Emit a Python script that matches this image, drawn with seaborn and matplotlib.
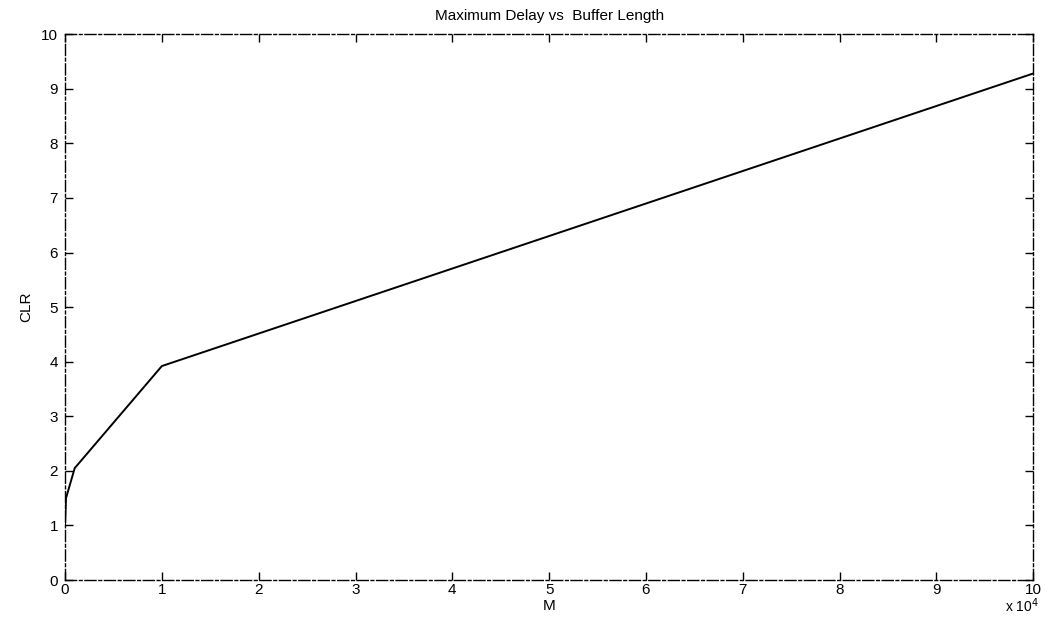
import matplotlib
matplotlib.use("Agg")
import matplotlib.pyplot as plt
import seaborn as sns
import pandas as pd
from matplotlib.ticker import FuncFormatter

# Buffer length M and the resulting CLR
buffer_length = [0, 100, 1000, 10000, 100000]
clr_values = [1.0, 1.5, 2.05, 3.92, 9.28]

xtick_values = list(range(0, 100001, 10000))
ytick_values = list(range(0, 11))

sns.set_theme(style="white")
plt.rcParams["font.family"] = ["Liberation Sans", "DejaVu Sans"]

df = pd.DataFrame({"M": buffer_length, "CLR": clr_values})

fig = plt.figure(figsize=(10.49, 6.33), dpi=100)
ax = fig.add_axes([0.062, 0.0837, 0.923, 0.8623])

sns.lineplot(data=df, x="M", y="CLR", ax=ax, color="black", linewidth=1.4,
             estimator=None, sort=False)

ax.set_xlim(0, 100000)
ax.set_ylim(0, 10)
ax.set_xticks(xtick_values)
ax.set_yticks(ytick_values)
ax.xaxis.set_major_formatter(FuncFormatter(lambda v, p: f"{v/1e4:g}"))

for side in ["top", "bottom", "left", "right"]:
    ax.spines[side].set_visible(True)
    ax.spines[side].set_color("black")
    ax.spines[side].set_linewidth(1.0)
    ax.spines[side].set_linestyle((0, (8, 2, 2, 2)))

ax.tick_params(axis="both", which="major", direction="in", length=6, width=1,
               color="black", labelsize=11, labelcolor="black",
               top=True, right=True, bottom=True, left=True)
ax.tick_params(axis="x", pad=2)
ax.tick_params(axis="y", pad=5)

ax.set_title("Maximum Delay vs  Buffer Length", fontsize=11, pad=10, color="black")
ax.set_xlabel("M", fontsize=11, color="black")
ax.xaxis.set_label_coords(0.5, -0.034)
ax.set_ylabel("CLR", fontsize=11, labelpad=6, color="black")

fig.text(0.958, 0.043, r"x 10$^4$", fontsize=10, color="black", ha="left", va="center")

fig.savefig("out.png", dpi=100, facecolor="white")
